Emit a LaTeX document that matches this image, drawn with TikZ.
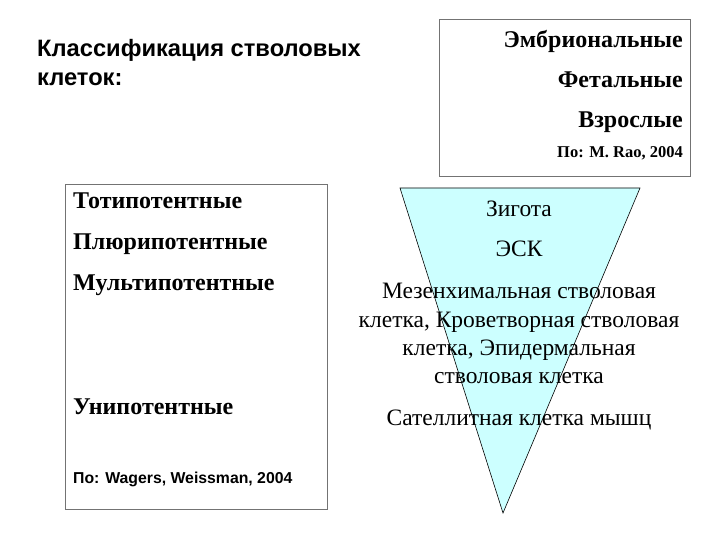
\documentclass[tikz,border=0pt]{standalone}
\usepackage{fontspec}
\setmainfont{Liberation Serif}
\setsansfont{Liberation Sans}
\usepackage{tikz}
\usetikzlibrary{positioning, calc}

\definecolor{trifill}{HTML}{CCFFFF}

\tikzset{
  framebox/.style={draw=black!55, line width=0.9pt, inner sep=0pt, anchor=north west},
  bigtext/.style={font=\fontsize{24}{26}\selectfont\bfseries, inner sep=0pt},
  plaintext/.style={font=\fontsize{23.5}{26}\selectfont, inner sep=0pt, anchor=base},
  srctext/.style={font=\sffamily\fontsize{15.8}{18}\selectfont\bfseries, inner sep=0pt},
  titletext/.style={font=\sffamily\fontsize{23.7}{26}\selectfont\bfseries, inner sep=0pt, anchor=base west}
}

\begin{document}
\begin{tikzpicture}[x=1pt, y=-1pt]

		\useasboundingbox (0,0) rectangle (720,540);

		%//title
		\node [titletext] (title1) at (37,57) {Классификация стволовых};
		\node [titletext] (title2) at (37,86) {клеток:};

		%//right box
		\node [framebox, minimum width=251pt, minimum height=157pt] (rbox) at (439,19) {};
		\node [bigtext, anchor=base east] (emb) at (683,48) {Эмбриональные};
		\node [bigtext, anchor=base east] (fet) at (683,88) {Фетальные};
		\node [bigtext, anchor=base east] (adu) at (683,128) {Взрослые};
		\node [font=\fontsize{16.5}{18}\selectfont\bfseries, inner sep=0pt, anchor=base east] (rao) at (683,158) {По: M. Rao, 2004};

		%//left box
		\node [framebox, minimum width=262pt, minimum height=325pt] (lbox) at (65,184) {};
		\node [bigtext, anchor=base west] (toti) at (73,208) {Тотипотентные};
		\node [bigtext, anchor=base west] (pluri) at (73,249) {Плюрипотентные};
		\node [bigtext, anchor=base west] (multi) at (73,290) {Мультипотентные};
		\node [bigtext, anchor=base west] (uni) at (73,414) {Унипотентные};
		\node [srctext, anchor=base west] (wag) at (73,483) {По: Wagers, Weissman, 2004};

		%//triangle
		\coordinate (tl) at (400,188);
		\coordinate (tr) at (640,188);
		\coordinate (tb) at (503,513);
		\draw [fill=trifill, line width=0.6pt] (tl) -- (tr) -- (tb) -- cycle;

		\node [plaintext] (zyg) at (519,217) {Зигота};
		\node [plaintext] (esc) at (519,256) {ЭСК};
		\node [plaintext] (mes) at (519,298) {Мезенхимальная стволовая};
		\node [plaintext] (hem) at (519,327) {клетка, Кроветворная стволовая};
		\node [plaintext] (epi) at (519,355) {клетка, Эпидермальная};
		\node [plaintext] (epi2) at (519,383) {стволовая клетка};
		\node [plaintext] (sat) at (519,425) {Сателлитная клетка мышц};

\end{tikzpicture}
\end{document}
